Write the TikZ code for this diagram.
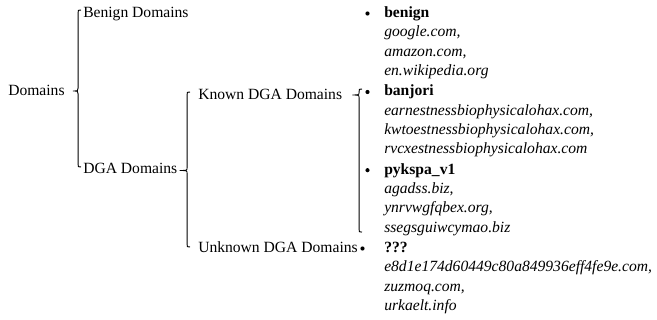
\documentclass[tikz,border=0pt]{standalone}
\usepackage{fontspec}
\setmainfont{Liberation Serif}
\usetikzlibrary{calc}
\def\bcr{2.2pt}
\newcommand\mybrace[3]{%
  \draw[brc] let \p1=(#1), \p2=(#2), \p3=(#3) in
   (\x1,\y1) .. controls (\x1-\bcr,\y1) .. (\x1-\bcr,\y1-\bcr)
   -- (\x1-\bcr,\y2+\bcr) .. controls (\x1-\bcr,\y2) .. (\x2,\y2)
   .. controls (\x1-\bcr,\y2) .. (\x1-\bcr,\y2-\bcr)
   -- (\x1-\bcr,\y3+\bcr) .. controls (\x1-\bcr,\y3) .. (\x3,\y3);}
\begin{document}
\begin{tikzpicture}[x=0.75pt,y=-0.75pt,
  txt/.style={anchor=base west, inner sep=0pt, font=\fontsize{11.7pt}{14pt}\selectfont},
  lbl/.style={txt, font=\fontsize{11.7pt}{14pt}\selectfont\bfseries},
  dom/.style={txt, font=\fontsize{11.7pt}{14pt}\selectfont\itshape},
  bul/.style={circle, fill=black, inner sep=0pt, minimum size=3.1pt},
  brc/.style={draw=black, line width=0.7pt}]
\useasboundingbox (0,0) rectangle (657,320);
% left hierarchy
\node[txt] (domains) at (8,96) {Domains};
\node[txt] (benD) at (83,17.5) {Benign Domains};
\node[txt] (dgaD) at (83,174) {DGA Domains};
\node[txt] (knownD) at (198,100) {Known DGA Domains};
\node[txt] (unkD) at (198,252.5) {Unknown DGA Domains};
% right column
\node[bul] (b1) at (367.5,13.5) {};
\node[lbl] (benign) at (384,17.5) {benign};
\node[dom] (d11) at (384,36.8) {google.com,};
\node[dom] (d12) at (384,56.1) {amazon.com,};
\node[dom] (d13) at (384,75.4) {en.wikipedia.org};
\node[bul] (b2) at (367.5,92) {};
\node[lbl] (banjori) at (384,96) {banjori};
\node[dom] (d21) at (384,115.3) {earnestnessbiophysicalohax.com,};
\node[dom] (d22) at (384,134.6) {kwtoestnessbiophysicalohax.com,};
\node[dom] (d23) at (384,153.9) {rvcxestnessbiophysicalohax.com};
\node[bul] (b3) at (367.5,170.2) {};
\node[lbl] (pykspa) at (384,174.2) {pykspa\_v1};
\node[dom] (d31) at (384,193.5) {agadss.biz,};
\node[dom] (d32) at (384,212.8) {ynrvwgfqbex.org,};
\node[dom] (d33) at (384,232.1) {ssegsguiwcymao.biz};
\node[bul] (b4) at (362.5,248.5) {};
\node[lbl] (unk) at (384,252.5) {???};
\node[dom] (d41) at (384,271.8) {e8d1e174d60449c80a849936eff4fe9e.com,};
\node[dom] (d42) at (384,291.1) {zuzmoq.com,};
\node[dom] (d43) at (384,310.4) {urkaelt.info};
% brace anchor points
\coordinate (t1) at ($(benD.base west)+(-2,-7.5)$);
\coordinate (m1) at ($(domains.base east)+(8,-5)$);
\coordinate (e1) at ($(dgaD.base west)+(-2,-7)$);
\coordinate (t2) at ($(knownD.base west)+(-8,-8)$);
\coordinate (m2) at ($(dgaD.base east)+(2,-3.5)$);
\coordinate (e2) at ($(unkD.base west)+(-8,-5.5)$);
\coordinate (t3) at ($(banjori.base west)+(-22,-7)$);
\coordinate (m3) at ($(knownD.base east)+(10,-5)$);
\coordinate (e3) at ($(d33.base west)+(-22,0)$);
\mybrace{t1}{m1}{e1}
\mybrace{t2}{m2}{e2}
\mybrace{t3}{m3}{e3}
\end{tikzpicture}
\end{document}
